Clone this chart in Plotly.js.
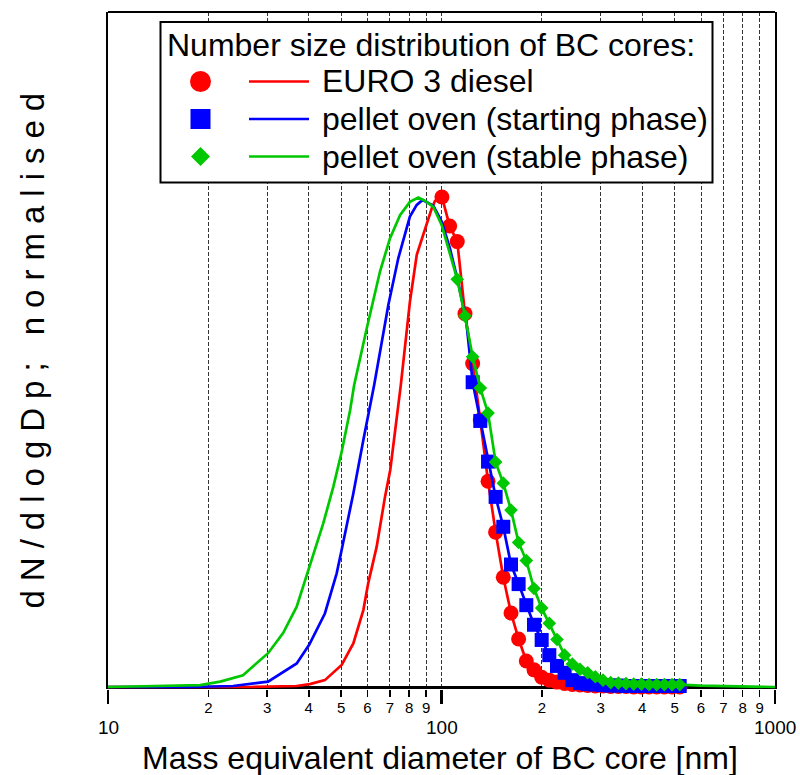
<!DOCTYPE html>
<html><head><meta charset="utf-8">
<script src="https://cdn.plot.ly/plotly-3.0.1.min.js"></script>
<style>html,body{margin:0;padding:0;background:#fff}#chart{width:800px;height:775px}</style>
</head><body><div id="chart"></div>
<script>
const seriesNames = ['EURO 3 diesel', 'pellet oven (starting phase)', 'pellet oven (stable phase)'];
const seriesColors = ['#ff0000', '#0000ff', '#00c800'];
const seriesSymbols = ['circle', 'square', 'diamond'];
const legendTitle = 'Number size distribution of BC cores:';
const xTitle = 'Mass equivalent diameter of BC core [nm]';
const yTitle = 'dN/dlogDp; normalised';

const minorTickVals = [20, 30, 40, 50, 60, 70, 80, 90, 100, 200, 300, 400, 500, 600, 700, 800, 900];
const minorTickText = ['2', '3', '4', '5', '6', '7', '8', '9', '', '2', '3', '4', '5', '6', '7', '8', '9'];
const majorTickVals = [10, 100, 1000];
const majorTickText = ['10', '100', '1000'];

// EURO 3 diesel: continuous curve (left part) and measured points
const dieselLineD = [10, 26.7, 36.8, 40.3, 44.7, 50.2, 54.4, 58.3, 60.3, 63.9, 67.7, 70.2, 75.5, 80.4, 84.3, 89.2, 93.5, 95.6];
const dieselLineN = [0, 0, 0.002, 0.006, 0.014, 0.045, 0.089, 0.157, 0.212, 0.286, 0.388, 0.443, 0.616, 0.786, 0.882, 0.933, 0.977, 0.992];
const dieselMarkD = [100.3, 105.8, 111.5, 117.6, 124.0, 130.7, 137.9, 145.3, 153.2, 161.6, 170.3, 179.6, 189.4, 199.7, 210.5, 222.0, 234.0, 246.8, 260.2, 274.3, 289.2, 305.0, 321.6, 339.1, 357.5, 376.9, 397.4, 419.0, 441.8, 465.8, 491.2, 517.9];
const dieselMarkN = [1.000, 0.941, 0.909, 0.762, 0.660, 0.545, 0.420, 0.316, 0.224, 0.151, 0.098, 0.053, 0.035, 0.020, 0.014, 0.010, 0.007, 0.005, 0.004, 0.003, 0.002, 0.002, 0.001, 0.001, 0.001, 0, 0, 0, 0, 0, 0, 0];

// pellet oven, starting phase
const startLineD = [10, 17.6, 23.7, 30.2, 36.8, 40.1, 44.7, 48.5, 50.2, 54.4, 58.3, 60.3, 62.8, 69.3, 74.2, 80.4, 84.3, 87.8, 94.5, 100.1, 106.0, 112.1, 118.7];
const startLineN = [0, 0, 0.002, 0.011, 0.048, 0.086, 0.150, 0.232, 0.280, 0.395, 0.504, 0.552, 0.616, 0.780, 0.875, 0.960, 0.984, 0.994, 0.982, 0.950, 0.895, 0.827, 0.745];
const startMarkD = [124.0, 130.7, 137.9, 145.3, 153.2, 161.6, 170.3, 179.6, 189.4, 199.7, 210.5, 222.0, 234.0, 246.8, 260.2, 274.3, 289.2, 305.0, 321.6, 339.1, 357.5, 376.9, 397.4, 419.0, 441.8, 465.8, 491.2, 517.9];
const startMarkN = [0.622, 0.543, 0.460, 0.388, 0.327, 0.250, 0.210, 0.167, 0.127, 0.096, 0.065, 0.043, 0.029, 0.014, 0.008, 0.006, 0.005, 0.004, 0.003, 0.003, 0.002, 0.002, 0.002, 0.002, 0.002, 0.002, 0.002, 0.002];

// pellet oven, stable phase
const stableLineD = [10, 15.3, 18.9, 21.7, 25.4, 30.2, 33.5, 36.8, 40.1, 44.2, 47.4, 50.2, 53.2, 54.7, 59.7, 65.4, 70.1, 75.1, 80.4, 85.2, 90.3, 94.5, 100.1, 106.0];
const stableLineN = [0, 0.002, 0.004, 0.011, 0.024, 0.069, 0.110, 0.164, 0.242, 0.334, 0.409, 0.480, 0.565, 0.616, 0.732, 0.848, 0.916, 0.963, 0.990, 0.999, 0.990, 0.980, 0.943, 0.882];
const stableMarkD = [111.5, 117.6, 124.0, 130.7, 137.9, 145.3, 153.2, 161.6, 170.3, 179.6, 189.4, 199.7, 210.5, 222.0, 234.0, 246.8, 260.2, 274.3, 289.2, 305.0, 321.6, 339.1, 357.5, 376.9, 397.4, 419.0, 441.8, 465.8, 491.2, 517.9];
const stableMarkN = [0.832, 0.757, 0.674, 0.610, 0.559, 0.459, 0.416, 0.361, 0.295, 0.258, 0.201, 0.161, 0.130, 0.097, 0.065, 0.047, 0.036, 0.029, 0.021, 0.014, 0.009, 0.008, 0.007, 0.006, 0.006, 0.005, 0.005, 0.005, 0.005, 0.005];
const stableTailD = [600, 700, 800, 1000];
const stableTailN = [0.003, 0.002, 0.001, 0];

const FONT = 'Arial, "Liberation Sans", sans-serif';

const lineSets = [
  {x: dieselLineD.concat(dieselMarkD), y: dieselLineN.concat(dieselMarkN)},
  {x: startLineD.concat(startMarkD), y: startLineN.concat(startMarkN)},
  {x: stableLineD.concat(stableMarkD, stableTailD), y: stableLineN.concat(stableMarkN, stableTailN)}
];
const markSets = [
  {x: dieselMarkD, y: dieselMarkN, size: 15},
  {x: startMarkD, y: startMarkN, size: 14},
  {x: stableMarkD, y: stableMarkN, size: 10.5}
];

const traces = [];
for (let i = 0; i < 3; i++) {
  traces.push({
    type: 'scatter', mode: 'lines', x: lineSets[i].x, y: lineSets[i].y,
    line: {color: seriesColors[i], width: 2.7}, showlegend: false, hoverinfo: 'skip'
  });
  traces.push({
    type: 'scatter', mode: 'markers', x: markSets[i].x, y: markSets[i].y, name: seriesNames[i],
    marker: {symbol: seriesSymbols[i], size: markSets[i].size, color: seriesColors[i], line: {width: 0}},
    cliponaxis: false, showlegend: false
  });
}

// layout positions (pixels converted to paper fractions)
const L = 108, R = 775, T = 12, B = 689;
const px = v => (v - L) / (R - L);
const py = v => (B - v) / (B - T);
const rowY = [81.5, 119, 156.5];

const shapes = [
  {type: 'line', xref: 'paper', yref: 'paper', x0: 0, x1: 1, y0: 1, y1: 1, line: {color: '#000', width: 2}},
  {type: 'rect', xref: 'paper', yref: 'paper', x0: px(160.5), x1: px(712.5), y0: py(182.5), y1: py(22),
   line: {color: '#000', width: 2}, fillcolor: '#fff', layer: 'above'}
];
const annotations = [
  {text: legendTitle, xref: 'paper', yref: 'paper', x: px(165), y: py(45), xanchor: 'left', yanchor: 'middle',
   showarrow: false, font: {family: FONT, size: 32, color: '#000'}},
  {text: yTitle, xref: 'paper', yref: 'paper', x: px(32), y: py(346), xanchor: 'center', yanchor: 'middle',
   textangle: -90, showarrow: false, font: {family: FONT, size: 33, color: '#000'}},
  {text: xTitle, xref: 'paper', yref: 'paper', x: px(440), y: py(758), xanchor: 'center', yanchor: 'middle',
   showarrow: false, font: {family: FONT, size: 32, color: '#000'}}
];
// decade tick labels
for (let k = 0; k < majorTickVals.length; k++) {
  annotations.push({text: majorTickText[k], xref: 'x', yref: 'paper', x: Math.log10(majorTickVals[k]), y: py(727),
    xanchor: 'center', yanchor: 'middle', showarrow: false, font: {family: FONT, size: 19, color: '#000'}});
}
// custom legend
for (let i = 0; i < 3; i++) {
  const base = {xref: 'paper', yref: 'paper', xsizemode: 'pixel', ysizemode: 'pixel',
    xanchor: px(200.5), yanchor: py(rowY[i]), fillcolor: seriesColors[i],
    line: {width: 0, color: 'rgba(0,0,0,0)'}, layer: 'above'};
  if (seriesSymbols[i] === 'circle') shapes.push(Object.assign({type: 'circle', x0: -10.5, x1: 10.5, y0: -10.5, y1: 10.5}, base));
  else if (seriesSymbols[i] === 'square') shapes.push(Object.assign({type: 'rect', x0: -10, x1: 10, y0: -10, y1: 10}, base));
  else shapes.push(Object.assign({type: 'path', path: 'M -9.5 0 L 0 9.5 L 9.5 0 L 0 -9.5 Z'}, base));
  shapes.push({type: 'line', xref: 'paper', yref: 'paper', x0: px(249), x1: px(309), y0: py(rowY[i]), y1: py(rowY[i]),
    line: {color: seriesColors[i], width: 2.5}, layer: 'above'});
  annotations.push({text: seriesNames[i], xref: 'paper', yref: 'paper', x: px(320), y: py(rowY[i]),
    xanchor: 'left', yanchor: 'middle', showarrow: false, font: {family: FONT, size: 32, color: '#000'}});
}

const layout = {
  width: 800, height: 775,
  margin: {l: L, r: 800 - R, t: T, b: 775 - B, pad: 0},
  paper_bgcolor: '#fff', plot_bgcolor: '#fff',
  font: {family: FONT, color: '#000'},
  showlegend: false,
  xaxis: {
    type: 'log', range: [1, 3], tickmode: 'array', tickvals: minorTickVals, ticktext: minorTickText,
    ticks: 'outside', ticklen: 7, tickwidth: 1.5, tickcolor: '#000',
    tickfont: {family: FONT, size: 15, color: '#000'}, ticklabelstandoff: -2,
    showgrid: true, gridcolor: '#333', gridwidth: 1, griddash: '4px,2px',
    minor: {tickmode: 'array', tickvals: majorTickVals, ticks: 'outside', ticklen: 14, tickwidth: 2.5,
            tickcolor: '#000', showgrid: false},
    showline: false, zeroline: false, fixedrange: true, layer: 'below traces'
  },
  yaxis: {
    range: [-0.00408, 1.3776], showticklabels: false, ticks: '', showgrid: false,
    zeroline: true, zerolinecolor: '#000', zerolinewidth: 3,
    showline: true, linecolor: '#000', linewidth: 2, mirror: true, fixedrange: true
  },
  shapes: shapes,
  annotations: annotations
};

Plotly.newPlot('chart', traces, layout, {displayModeBar: false, staticPlot: true}).then(function (gd) {
  gd.querySelectorAll('.annotation-text').forEach(function (t) {
    if (t.textContent === yTitle) t.style.letterSpacing = '9px';
  });
});
</script>
</body></html>
